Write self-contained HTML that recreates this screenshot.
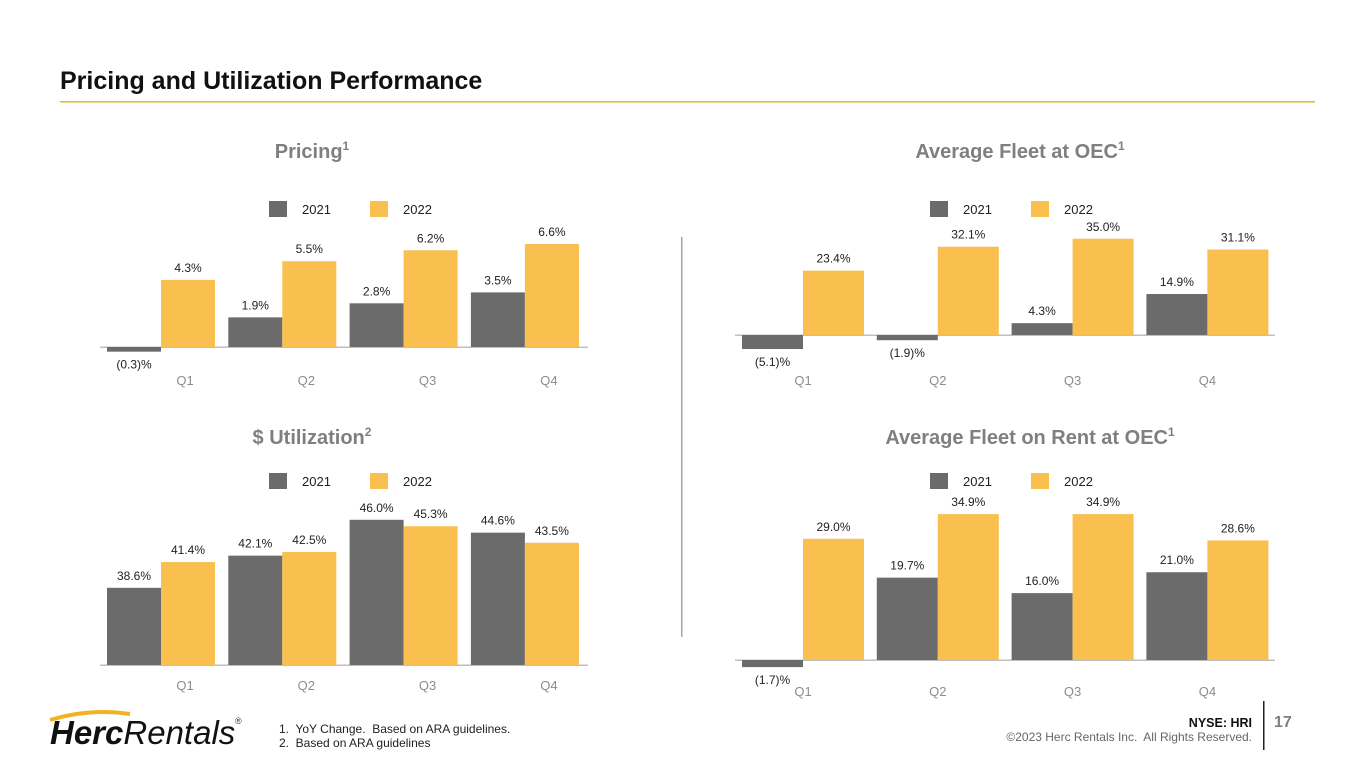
<!DOCTYPE html>
<html><head><meta charset="utf-8">
<style>
body{margin:0;width:1365px;height:769px;background:#fff;overflow:hidden;font-family:"Liberation Sans",Arial,sans-serif}
svg{position:absolute;left:0;top:0}
</style></head>
<body>
<svg id="s" width="1365" height="769" xmlns="http://www.w3.org/2000/svg">
<text x="60" y="89" font-size="25" font-weight="bold" fill="#111">Pricing and Utilization Performance</text>
<rect x="60" y="101" width="1255" height="1.5" fill="#f0b323"/>
<rect x="681" y="237" width="1.5" height="400" fill="#a6a6a6"/>
<g>
<path d="M50 720 Q90 708 130 714" stroke="#f0b323" stroke-width="4" fill="none"/>
<text x="50" y="744" font-size="33" font-weight="bold" font-style="italic" fill="#111">Herc<tspan font-weight="normal">Rentals</tspan></text>
<text x="235" y="724" font-size="9" fill="#333">®</text>
</g>
<text x="279" y="733" font-size="12" fill="#222" style="white-space:pre">1.  YoY Change.  Based on ARA guidelines.</text>
<text x="279" y="747" font-size="12" fill="#222" style="white-space:pre">2.  Based on ARA guidelines</text>
<text x="1252" y="727" font-size="12.5" font-weight="bold" fill="#111" text-anchor="end">NYSE: HRI</text>
<text x="1252" y="741" font-size="12" fill="#666" text-anchor="end" style="white-space:pre">©2023 Herc Rentals Inc.  All Rights Reserved.</text>
<rect x="1263" y="701" width="1.5" height="49" fill="#222"/>
<text x="1274" y="727" font-size="16" font-weight="bold" fill="#7f7f7f">17</text>
</svg>
<script>
const quarters=["Q1","Q2","Q3","Q4"];
const years=["2021","2022"];
const pricing2021=[-0.3,1.9,2.8,3.5];
const pricing2022=[4.3,5.5,6.2,6.6];
const util2021=[38.6,42.1,46.0,44.6];
const util2022=[41.4,42.5,45.3,43.5];
const oec2021=[-5.1,-1.9,4.3,14.9];
const oec2022=[23.4,32.1,35.0,31.1];
const rent2021=[-1.7,19.7,16.0,21.0];
const rent2022=[29.0,34.9,34.9,28.6];

const NS="http://www.w3.org/2000/svg";
const svg=document.getElementById('s');
function mk(tag,attrs,parent){const e=document.createElementNS(NS,tag);for(const k in attrs)e.setAttribute(k,attrs[k]);(parent||svg).appendChild(e);return e;}
function fmt(v){return v<0?"("+Math.abs(v).toFixed(1)+")%":v.toFixed(1)+"%";}

function chart(o,a,b){
  const g=mk('g',{});
  
  
  const t=mk('text',{x:o.tx,y:o.ty,'font-size':20,'font-weight':'bold',fill:'#7f7f7f','text-anchor':'middle'},g);
  t.textContent=o.title;
  const sup=mk('tspan',{'font-size':12,dy:-8},t);sup.textContent=o.sup;
  
  
  const cols=['#6b6b6b','#f9bf4f'];
  for(let i=0;i<2;i++){
    const r=mk('rect',{x:o.lx+i*o.lgap,y:o.ly-8,width:18,height:16,fill:cols[i]},g);
    
    
    const lt=mk('text',{x:o.lx+i*o.lgap+33,y:o.ly+5,'font-size':13,fill:'#222'},g);
    lt.textContent=years[i];
    
    
  }
  const yv=v=>o.base-(v-o.min)*o.k;
  const ax=mk('rect',{x:o.ax0,y:o.base-0.5,width:o.ax1-o.ax0,height:1.5,fill:'#bfbfbf'},g);
  
  
  const series=[a,b];
  quarters.forEach((q,i)=>{
    const gx=o.x0+i*o.step;
    for(let s=0;s<2;s++){
      const v=series[s][i];
      const x=gx+s*o.bw;
      const top=Math.min(yv(v),o.base), h=Math.abs(yv(v)-o.base);
      const r=mk('rect',{x:x,y:top,width:o.bw,height:h,fill:cols[s]},g);
      
      
      const lt=mk('text',{x:x+o.bw/2,y:v<0?yv(v)+17:yv(v)-8,'font-size':12,fill:'#222','text-anchor':'middle'},g);
      lt.textContent=fmt(v);
      
      
    }
    const ql=mk('text',{x:gx+o.bw+o.qoff,y:o.qy,'font-size':13,fill:'#8c8c8c','text-anchor':'middle'},g);
    ql.textContent=q;
    
    
  });
}
chart({name:'pricing-chart',title:'Pricing',sup:'1',tx:312,ty:158,lx:269,ly:209,lgap:101,base:347,min:0,k:15.6,x0:107,step:121.3,bw:54,ax0:100,ax1:588,qy:385,qoff:24},pricing2021,pricing2022);
chart({name:'utilization-chart',title:'$ Utilization',sup:'2',tx:312,ty:444,lx:269,ly:481,lgap:101,base:665,min:30.2,k:9.19,x0:107,step:121.3,bw:54,ax0:100,ax1:588,qy:690,qoff:24},util2021,util2022);
chart({name:'fleet-oec-chart',title:'Average Fleet at OEC',sup:'1',tx:1020,ty:158,lx:930,ly:209,lgap:101,base:335,min:0,k:2.75,x0:742,step:134.8,bw:61,ax0:735,ax1:1275,qy:385,qoff:0},oec2021,oec2022);
chart({name:'fleet-rent-chart',title:'Average Fleet on Rent at OEC',sup:'1',tx:1030,ty:444,lx:930,ly:481,lgap:101,base:660,min:0,k:4.18,x0:742,step:134.8,bw:61,ax0:735,ax1:1275,qy:696,qoff:0},rent2021,rent2022);
</script>
</body></html>
